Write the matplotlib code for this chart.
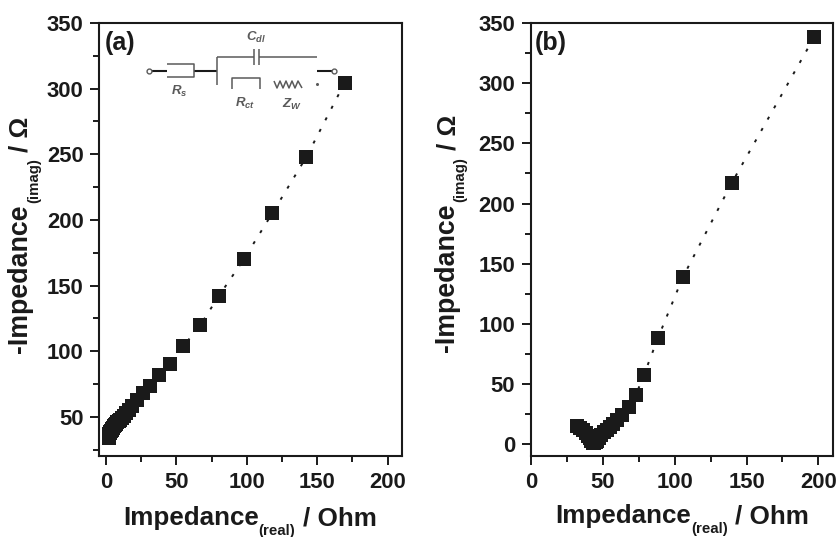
import matplotlib
matplotlib.use("Agg")
import matplotlib.pyplot as plt
from matplotlib.ticker import MultipleLocator

plt.rcParams['font.family'] = ['Liberation Sans', 'DejaVu Sans']
plt.rcParams['font.weight'] = 'bold'
plt.rcParams['mathtext.fontset'] = 'custom'
plt.rcParams['mathtext.it'] = 'Liberation Sans:italic:bold'
plt.rcParams['mathtext.rm'] = 'Liberation Sans:bold'
plt.rcParams['mathtext.default'] = 'it'

INK = "#1a1a1a"
GR = "#5a5a5a"

# panel a
real_a = [169.5, 142.3, 118, 97.8, 80, 67, 55, 45.5, 37.7, 31, 26.4, 22, 18.5, 16, 14, 12.5, 11, 10, 9,
          8, 7, 6, 5.5, 5, 4.5, 4, 3.5, 3.2, 3, 2.8, 2.6, 2.4, 2.2, 2.1, 2, 2, 2]
imag_a = [304.5, 248, 205, 170, 142, 120, 104, 90.5, 82, 73.6, 68.3, 63, 58, 55, 53, 51, 49.5, 48, 47,
          46, 45, 44, 43, 42, 41, 40, 39.5, 39, 38.5, 38, 37.5, 37, 36.5, 36, 35.5, 35, 34]

# panel b
real_b = [197, 139.8, 105.6, 88.4, 78.7, 73, 68, 63, 60, 57, 55, 53, 51, 49, 47.5, 46, 45, 44, 43, 42,
          41, 40, 38, 36, 34, 32]
imag_b = [338, 217.3, 138.6, 88.4, 58, 41, 31, 24, 20, 17, 14, 12, 10, 7.5, 5, 3, 1.8, 1.2, 1.5, 3,
          5, 7, 9.5, 11.5, 13.5, 15.5]

W, H = 836, 537


def panel(box, x, y, xlim, ylim):
    l, t, r, b = box
    ax = fig.add_axes([l / W, 1 - b / H, (r - l) / W, (b - t) / H])
    ax.plot(x, y, ls=(0, (1.6, 5.1)), lw=1.4, color=INK, marker="s", ms=9.6, mew=0, mfc=INK)
    ax.set_xlim(xlim)
    ax.set_ylim(ylim)
    ax.xaxis.set_major_locator(MultipleLocator(50))
    ax.xaxis.set_minor_locator(MultipleLocator(25))
    ax.yaxis.set_major_locator(MultipleLocator(50))
    ax.yaxis.set_minor_locator(MultipleLocator(25))
    ax.tick_params(which="major", length=6.8, width=1.4, labelsize=15.8, pad=4.5, color=INK, labelcolor=INK)
    ax.tick_params(which="minor", length=4, width=1.4, color=INK)
    for s in ax.spines.values():
        s.set_linewidth(1.5)
        s.set_color(INK)
    return ax


fig = plt.figure(figsize=(W / 100, H / 100), dpi=100)
panel((99.3, 23, 401.7, 456), real_a, imag_a, (-4.8, 210), (20.3, 350))
panel((531, 23, 832.7, 456), real_b, imag_b, (0, 210), (-9.7, 350))

# everything else is placed in image pixels
ov = fig.add_axes([0, 0, 1, 1], facecolor="none")
ov.set_xlim(0, W)
ov.set_ylim(H, 0)
ov.axis("off")


def piece(px, py, s, size, rot=0):
    ov.text(px, py, s, fontsize=size, rotation=rot, rotation_mode="anchor",
            ha="left", va="baseline", color=INK)


# axis labels
piece(123, 525, "Impedance", 18.7)
piece(258.5, 535, "(real)", 10.8)
piece(303, 525, "/ Ohm", 18.7)
piece(555, 523, "Impedance", 18.7)
piece(691, 533, "(real)", 10.8)
piece(735, 523, "/ Ohm", 18.7)

piece(27, 353, "-Impedance", 19.3, 90)
piece(38, 203, "(imag)", 10.8, 90)
piece(28, 152, "/ \u03a9", 18.7, 90)
piece(454, 352, "-Impedance", 19.3, 90)
piece(464, 202, "(imag)", 10.8, 90)
piece(455, 150, "/ \u03a9", 18.7, 90)

piece(105, 50, "(a)", 18)
piece(535, 50, "(b)", 18)

# circuit inset
wires = [
    ([151, 167], [71, 71], 1.5, INK), ([194, 217], [71, 71], 1.5, INK), ([317, 333], [71, 71], 1.5, INK),
    ([167, 194, 194, 167], [64, 64, 77, 77], 1.1, GR),
    ([217, 217], [57, 85], 1.1, GR), ([217, 254], [57, 57], 1.1, GR), ([259, 317], [57, 57], 1.1, GR),
    ([254, 254], [49, 65], 1.1, GR), ([259, 259], [49, 65], 1.1, GR),
    ([232, 232, 260, 260], [89, 78, 78, 89], 1.1, GR),
    ([274, 277, 280, 283, 286, 289, 292, 295, 298, 302], [81, 88, 81, 88, 81, 88, 81, 88, 81, 88], 1.1, GR),
]
for wx, wy, w, c in wires:
    ov.plot(wx, wy, color=c, lw=w, solid_capstyle="butt")
ov.plot([149, 334], [71, 71], ls="none", marker="o", ms=3.5, mfc="white", mec=GR, mew=1)
ov.plot([317], [84], ls="none", marker="o", ms=1.2, color=GR)
for tx, ty, s in [(256, 37, r"$C_{dl}$"), (179, 91, r"$R_{s}$"),
                  (245, 103, r"$R_{ct}$"), (292, 104, r"$Z_{W}$")]:
    ov.text(tx, ty, s, fontsize=9.5, ha="center", va="center", color=GR)

fig.savefig("out.png", dpi=100)
